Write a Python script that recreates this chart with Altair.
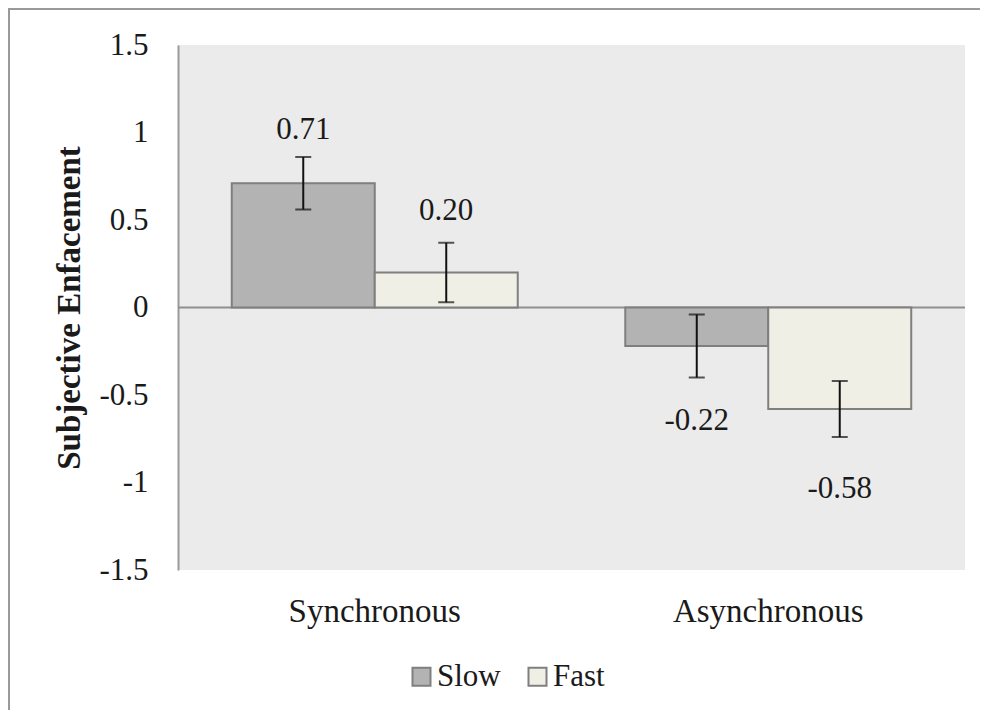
import altair as alt
import pandas as pd

conditions = ["Synchronous", "Synchronous", "Asynchronous", "Asynchronous"]
speeds = ["Slow", "Fast", "Slow", "Fast"]
means = [0.71, 0.20, -0.22, -0.58]
errors = [0.15, 0.17, 0.18, 0.16]
labels = ["0.71", "0.20", "-0.22", "-0.58"]
label_pos = [1.017, 0.554, -0.646, -1.037]

cond_order = ["Synchronous", "Asynchronous"]
speed_order = ["Slow", "Fast"]
speed_colors = ["#b3b3b3", "#f0efe6"]
y_ticks = [-1.5, -1, -0.5, 0, 0.5, 1, 1.5]

df = pd.DataFrame({
    "condition": conditions,
    "speed": speeds,
    "mean": means,
    "err": errors,
    "label": labels,
    "label_pos": label_pos,
})
df["lo"] = df["mean"] - df["err"]
df["hi"] = df["mean"] + df["err"]

FONT = "Liberation Serif"

x_enc = alt.X(
    "condition:N",
    sort=cond_order,
    scale=alt.Scale(paddingInner=0, paddingOuter=0),
    axis=alt.Axis(
        title=None, labelAngle=0, ticks=False, domain=False, labelLimit=0,
        labelFont=FONT, labelFontSize=33, labelColor="#1a1a1a", labelPadding=25,
    ),
)
xo_enc = alt.XOffset(
    "speed:N", sort=speed_order,
    scale=alt.Scale(paddingInner=0, paddingOuter=0.376),
)
y_scale = alt.Scale(domain=[-1.5, 1.5], nice=False, zero=False)

base = alt.Chart(df)

zero_line = alt.Chart(pd.DataFrame({"z": [0]})).mark_rule(
    color="#8f8f8f", strokeWidth=2
).encode(y=alt.Y("z:Q", scale=y_scale))

bars = base.mark_bar(stroke="#7f7f7f", strokeWidth=2).encode(
    x=x_enc,
    xOffset=xo_enc,
    y=alt.Y(
        "mean:Q", scale=y_scale,
        axis=alt.Axis(
            values=y_ticks, labelExpr="toString(datum.value)",
            ticks=False, grid=False, domain=True, domainColor="#9a9a9a", domainWidth=2,
            labelFont=FONT, labelFontSize=31, labelColor="#1a1a1a", labelPadding=30,
            title="Subjective Enfacement", titleFont=FONT, titleFontSize=33,
            titleFontWeight="bold", titleColor="#1a1a1a", titlePadding=12,
        ),
    ),
    y2=alt.datum(0),
    color=alt.Color(
        "speed:N", sort=speed_order,
        scale=alt.Scale(domain=speed_order, range=speed_colors),
        legend=alt.Legend(
            title=None, orient="none", legendX=228, legendY=616,
            direction="horizontal", symbolType="square", symbolSize=324,
            symbolStrokeColor="#7f7f7f", symbolStrokeWidth=2, symbolOpacity=1,
            labelFont=FONT, labelFontSize=31, labelColor="#1a1a1a",
            labelOffset=0, columnPadding=21, padding=0,
        ),
    ),
)

err_rule = base.mark_rule(color="#111111", strokeWidth=2).encode(
    x=x_enc, xOffset=xo_enc,
    y=alt.Y("lo:Q", scale=y_scale), y2="hi:Q",
)
cap_lo = base.mark_tick(color="#111111", size=16, thickness=2, orient="horizontal").encode(
    x=x_enc, xOffset=xo_enc, y=alt.Y("lo:Q", scale=y_scale),
)
cap_hi = base.mark_tick(color="#111111", size=16, thickness=2, orient="horizontal").encode(
    x=x_enc, xOffset=xo_enc, y=alt.Y("hi:Q", scale=y_scale),
)
texts = base.mark_text(
    font=FONT, fontSize=31, color="#1a1a1a", baseline="middle", align="center"
).encode(
    x=x_enc, xOffset=xo_enc,
    y=alt.Y("label_pos:Q", scale=y_scale),
    text="label:N",
)

frame_src = alt.Chart(pd.DataFrame({"f": [0]}))
frame_left = frame_src.mark_rule(color="#9a9a9a", strokeWidth=2).encode(
    x=alt.value(-169), y=alt.value(-36), y2=alt.value(680)
)
frame_top = frame_src.mark_rule(color="#9a9a9a", strokeWidth=2).encode(
    x=alt.value(-170), x2=alt.value(830), y=alt.value(-36)
)

chart = alt.layer(
    zero_line, bars, err_rule, cap_lo, cap_hi, texts, frame_left, frame_top
).properties(
    width=787, height=525,
    autosize=alt.AutoSizeParams(type="none"),
    padding={"left": 170, "top": 37, "right": 15, "bottom": 140},
    background="white",
).configure_view(fill="#ebebeb", strokeWidth=0)

chart.save("out.html", embed_options={"renderer": "svg", "actions": False})
